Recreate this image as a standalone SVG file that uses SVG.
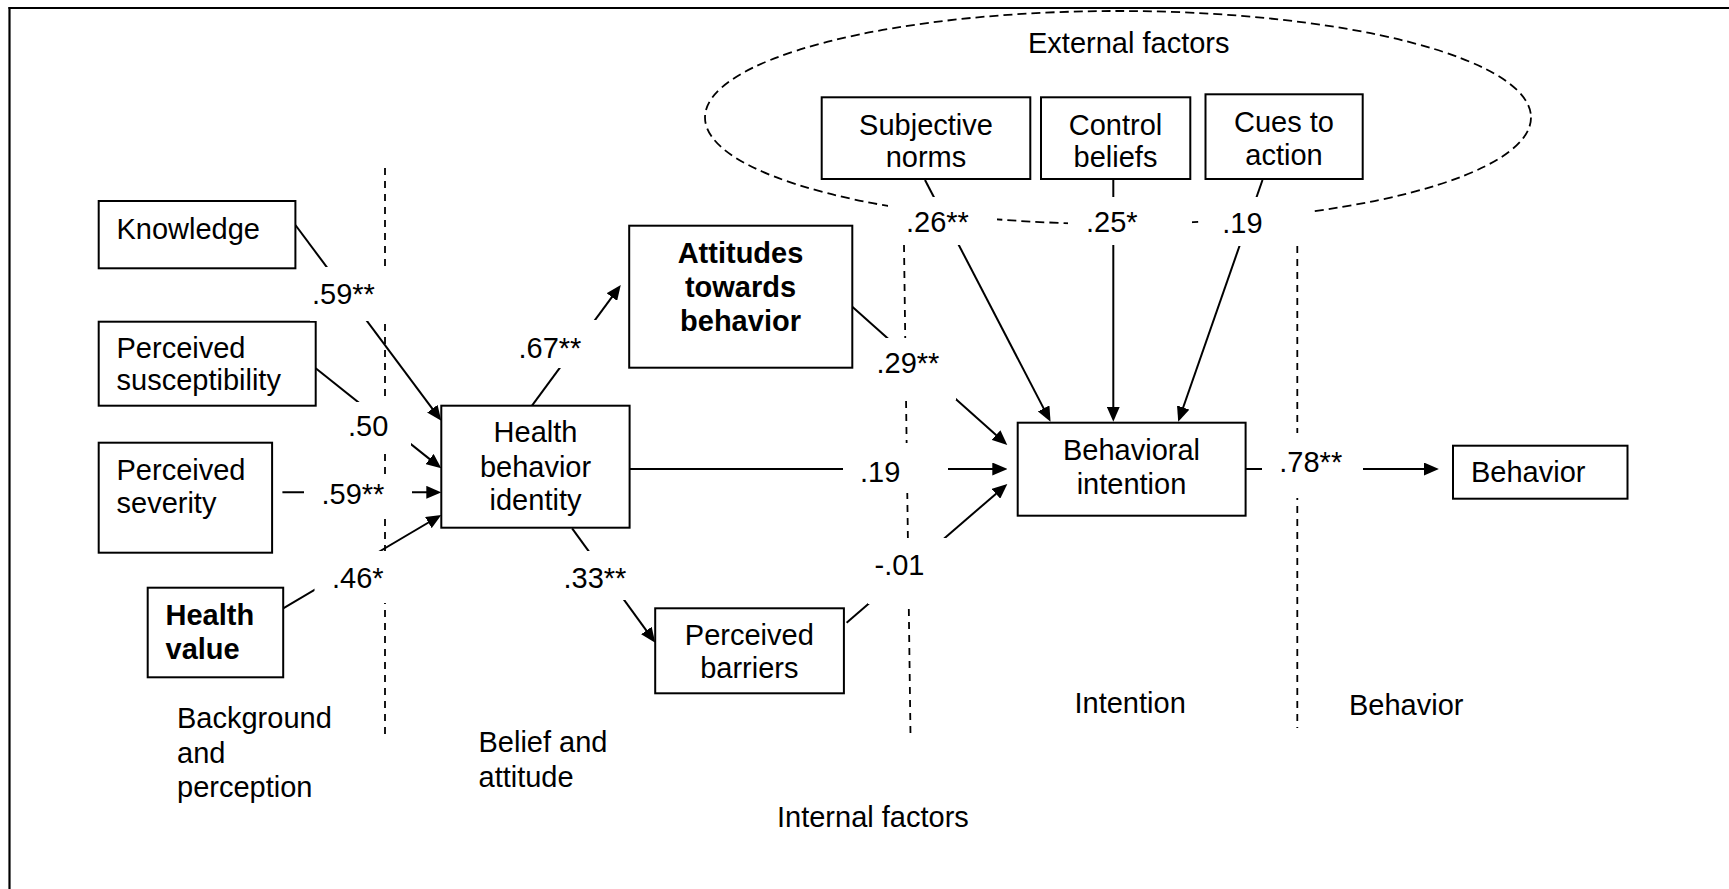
<svg xmlns="http://www.w3.org/2000/svg" width="1729" height="889" viewBox="0 0 1729 889">
<style>
  text { font-family: "Liberation Sans", Arial, sans-serif; font-size: 29px; fill: #000; }
  .b { font-weight: bold; }
  .m { text-anchor: middle; }
  .box { fill: #fff; stroke: #000; stroke-width: 2; }
  .conn { fill: none; stroke: #000; stroke-width: 2; }
  .arr { marker-end: url(#ah); }
  .vdash { fill: none; stroke: #000; stroke-width: 1.8; stroke-dasharray: 7 6; }
  .edash { fill: none; stroke: #000; stroke-width: 1.8; stroke-dasharray: 9 5; }
  .lbg { fill: #fff; stroke: none; }
</style>
<defs>
  <marker id="ah" markerUnits="userSpaceOnUse" markerWidth="15" markerHeight="13" refX="9" refY="6.5" orient="auto">
    <path d="M0,0 L15,6.5 L0,13 z" fill="#000"/>
  </marker>
</defs>
<rect x="0" y="0" width="1729" height="889" fill="#fff"/>

<g id="frame">
  <line x1="8.5" y1="8" x2="1729" y2="8" stroke="#000" stroke-width="2.2"/>
  <line x1="9.5" y1="7" x2="9.5" y2="889" stroke="#000" stroke-width="2.2"/>
</g>

<g id="regions">
  <ellipse class="edash" cx="1118" cy="117.5" rx="413" ry="106.5"/>
  <line class="vdash" x1="385" y1="168" x2="385" y2="736"/>
  <line class="vdash" x1="904" y1="245" x2="910.5" y2="736"/>
  <line class="vdash" x1="1297.3" y1="246" x2="1297.3" y2="728"/>
  <text x="1028" y="53.3">External factors</text>
  <text x="177" y="728.3">Background</text>
  <text x="177" y="762.7">and</text>
  <text x="177" y="796.7">perception</text>
  <text x="478.5" y="751.7">Belief and</text>
  <text x="478.5" y="786.7">attitude</text>
  <text x="777" y="826.7">Internal factors</text>
  <text x="1074.5" y="713.3">Intention</text>
  <text x="1349" y="715">Behavior</text>
</g>

<g id="connectors">
  <path class="conn arr" d="M295.4,225 L437.7,415.9"/>
  <path class="conn arr" d="M315.7,368.3 L436.6,464.6"/>
  <path class="conn arr" d="M282.4,492.3 L435.3,492.3"/>
  <path class="conn arr" d="M283.2,608.3 L436.1,518"/>
  <path class="conn arr" d="M532,405.7 L617.2,289.8"/>
  <path class="conn arr" d="M572.1,528.3 L651.7,637.8"/>
  <path class="conn arr" d="M852.3,306.7 L1002.8,441"/>
  <path class="conn arr" d="M629.6,469 L1001.3,469"/>
  <path class="conn arr" d="M846.6,622.7 L1002.8,487.9"/>
  <path class="conn arr" d="M925,180 L1047.8,416.4"/>
  <path class="conn arr" d="M1113.3,179 L1113.3,415.7"/>
  <path class="conn arr" d="M1262.5,180 L1180.2,416"/>
  <path class="conn arr" d="M1245.6,469 L1432.9,469"/>
</g>

<g id="knowledge">
  <rect class="box" x="98.7" y="201" width="196.7" height="67.3"/>
  <text x="116.5" y="239.3">Knowledge</text>
</g>
<g id="perceived-susceptibility">
  <rect class="box" x="98.7" y="321.7" width="217" height="84"/>
  <text x="116.5" y="358.3">Perceived</text>
  <text x="116.5" y="390">susceptibility</text>
</g>
<g id="perceived-severity">
  <rect class="box" x="98.7" y="442.7" width="173.4" height="110"/>
  <text x="116.5" y="480">Perceived</text>
  <text x="116.5" y="513.3">severity</text>
</g>
<g id="health-value">
  <rect class="box" x="147.7" y="587.7" width="135.5" height="89.6"/>
  <text class="b" x="165.5" y="625">Health</text>
  <text class="b" x="165.5" y="659.3">value</text>
</g>
<g id="health-behavior-identity">
  <rect class="box" x="441.3" y="405.7" width="188.3" height="122"/>
  <text class="m" x="535.5" y="442.3">Health</text>
  <text class="m" x="535.5" y="476.7">behavior</text>
  <text class="m" x="535.5" y="510">identity</text>
</g>
<g id="attitudes">
  <rect class="box" x="629.2" y="225.7" width="223.1" height="142"/>
  <text class="m b" x="740.5" y="263.3">Attitudes</text>
  <text class="m b" x="740.5" y="296.7">towards</text>
  <text class="m b" x="740.5" y="331">behavior</text>
</g>
<g id="perceived-barriers">
  <rect class="box" x="655.2" y="608.3" width="188.7" height="85"/>
  <text class="m" x="749.3" y="645">Perceived</text>
  <text class="m" x="749.3" y="678.3">barriers</text>
</g>
<g id="subjective-norms">
  <rect class="box" x="821.7" y="97.3" width="208.6" height="81.7"/>
  <text class="m" x="926" y="135">Subjective</text>
  <text class="m" x="926" y="166.7">norms</text>
</g>
<g id="control-beliefs">
  <rect class="box" x="1041" y="97.3" width="149.3" height="81.7"/>
  <text class="m" x="1115.5" y="135">Control</text>
  <text class="m" x="1115.5" y="166.7">beliefs</text>
</g>
<g id="cues-to-action">
  <rect class="box" x="1205.5" y="94.3" width="157.2" height="84.7"/>
  <text class="m" x="1284" y="131.7">Cues to</text>
  <text class="m" x="1284" y="165">action</text>
</g>
<g id="behavioral-intention">
  <rect class="box" x="1017.7" y="422.7" width="227.9" height="93"/>
  <text class="m" x="1131.5" y="460">Behavioral</text>
  <text class="m" x="1131.5" y="493.5">intention</text>
</g>
<g id="behavior">
  <rect class="box" x="1453" y="445.7" width="174.5" height="53"/>
  <text x="1471" y="481.7">Behavior</text>
</g>

<g id="labels">
  <rect class="lbg" x="310" y="267" width="82" height="54"/>
  <text x="312" y="304">.59**</text>
  <rect class="lbg" x="345" y="402" width="66" height="47"/>
  <text x="348" y="435.5">.50</text>
  <rect class="lbg" x="304" y="474" width="108" height="44"/>
  <text x="321.5" y="504">.59**</text>
  <rect class="lbg" x="314.5" y="551" width="77.5" height="52"/>
  <text x="332" y="587.7">.46*</text>
  <rect class="lbg" x="515" y="320" width="85" height="48"/>
  <text x="518.5" y="358.3">.67**</text>
  <rect class="lbg" x="560" y="551" width="72" height="49"/>
  <text x="563.5" y="588.3">.33**</text>
  <rect class="lbg" x="870" y="338" width="86" height="62"/>
  <text x="876.5" y="373.3">.29**</text>
  <rect class="lbg" x="843" y="443" width="105" height="50"/>
  <text x="860" y="481.7">.19</text>
  <rect class="lbg" x="868" y="538" width="82" height="66"/>
  <text x="874.5" y="575">-.01</text>
  <rect class="lbg" x="888" y="197" width="109" height="48"/>
  <text x="906" y="231.7">.26**</text>
  <rect class="lbg" x="1068" y="197" width="124" height="48"/>
  <text x="1086" y="231.7">.25*</text>
  <rect class="lbg" x="1200" y="197" width="110" height="49"/>
  <text x="1222.3" y="233.3">.19</text>
  <rect class="lbg" x="1262" y="433" width="101" height="65"/>
  <text x="1279.3" y="472">.78**</text>
</g>
</svg>
